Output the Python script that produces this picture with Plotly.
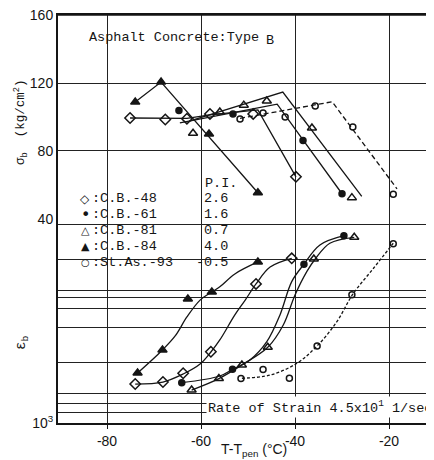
import plotly.graph_objects as go
from plotly.subplots import make_subplots

# ---------------- data ----------------
series_names = ["C.B.-48", "C.B.-61", "C.B.-81", "C.B.-84", "St.As.-93"]
pen_index = ["2.6", "1.6", "0.7", "4.0", "-0.5"]

# upper panel: breaking stress sigma_b (kg/cm2)
cb48_top_x = [-75.1, -67.6, -63.0, -58.1, -48.9, -39.8]
cb48_top_y = [99.4, 98.5, 99.0, 101.8, 101.8, 64.7]
cb48_top_fit_x = [-75.1, -63.0, -58.1, -47.9, -39.8]
cb48_top_fit_y = [99.4, 99.2, 101.3, 104.2, 64.7]

cb61_top_x = [-64.7, -53.2, -38.3, -30.0]
cb61_top_y = [103.8, 101.8, 86.2, 54.7]
cb61_top_fit_x = [-64.5, -43.8, -30.0]
cb61_top_fit_y = [96.5, 107.6, 54.7]

cb81_top_x = [-61.7, -56.0, -50.9, -46.0, -36.4, -27.9]
cb81_top_y = [90.4, 103.0, 107.0, 109.4, 93.5, 52.4]
cb81_top_fit_x = [-62.5, -42.6, -25.8]
cb81_top_fit_y = [97.5, 114.7, 53.1]

cb84_top_x = [-74.0, -68.5, -58.3, -47.9]
cb84_top_y = [108.8, 120.6, 90.0, 55.3]
cb84_top_fit_x = [-74.0, -68.5, -47.9]
cb84_top_fit_y = [108.8, 120.6, 55.3]

stas_top_x = [-51.7, -46.8, -42.1, -35.7, -27.7, -19.1]
stas_top_y = [98.8, 102.4, 100.0, 106.5, 94.1, 54.4]
stas_top_fit_x = [-51.7, -32.1, -18.3]
stas_top_fit_y = [99.2, 109.0, 57.6]

# lower panel: breaking strain epsilon_b (log scale)
cb48_low_x = [-74.0, -68.1, -63.8, -57.9, -48.3, -40.7]
cb48_low_y = [2390, 2500, 3040, 4920, 22400, 39700]
cb48_low_fit_x = [-74.0, -68.1, -63.8, -60.2, -57.9, -56.0, -52.8, -50.6, -48.3, -45.3, -40.7]
cb48_low_fit_y = [2390, 2500, 2990, 3740, 4890, 6400, 11200, 15600, 22400, 32700, 39700]

cb61_low_x = [-64.1, -53.3, -38.1, -29.6]
cb61_low_y = [2460, 3320, 34800, 65800]
cb61_low_fit_x = [-64.1, -56.0, -53.3, -49.6, -46.0, -43.2, -40.7, -38.1, -34.7, -29.6]
cb61_low_fit_y = [2460, 2860, 3320, 4090, 6160, 11200, 23600, 34800, 53500, 65800]

cb81_low_x = [-62.0, -56.2, -51.3, -45.8, -36.0, -27.4]
cb81_low_y = [2090, 2700, 3660, 5430, 39100, 63500]
cb81_low_fit_x = [-62.0, -56.2, -51.3, -45.8, -42.5, -40.0, -37.5, -35.7, -32.6, -27.4]
cb81_low_fit_y = [2090, 2700, 3660, 5430, 8940, 17500, 29500, 39100, 55600, 63500]

cb84_low_x = [-73.5, -68.2, -62.8, -57.7, -47.9]
cb84_low_y = [3060, 5120, 16000, 18700, 36600]
cb84_low_fit_x = [-73.5, -68.2, -65.5, -63.0, -60.2, -57.7, -56.0, -52.8, -47.9]
cb84_low_fit_y = [3060, 5120, 7000, 10700, 15600, 18700, 21000, 28000, 36600]

stas_low_x = [-51.5, -46.8, -41.2, -35.3, -27.9, -19.1]
stas_low_y = [2700, 3300, 2720, 5600, 17600, 55100]
stas_low_fit_x = [-51.3, -45.3, -39.6, -35.3, -31.1, -27.7, -23.3, -19.1]
stas_low_fit_y = [2720, 2920, 3800, 5600, 9630, 17800, 31800, 55600]

# axes / ticks
x_ticks = [-80, -60, -40, -20]
x_tick_text = ["-80", "-60", "-40", "-20"]
sigma_ticks = [40, 80, 120, 160]
eps_ticks = [1000]
eps_tick_text = ["10<sup>3</sup>"]
eps_grid = [1251, 1563, 1955, 3910, 8550, 12790, 16720, 19550, 39100, 85500]

# ---------------- figure ----------------
INK = "#151515"
fig = make_subplots(rows=2, cols=1, shared_xaxes=True, vertical_spacing=0)

symbols = ["diamond-open", "circle", "triangle-up-open", "triangle-up", "circle-open"]
msizes = [8, 6, 8, 8, 6]

top = [
    (cb48_top_x, cb48_top_y, cb48_top_fit_x, cb48_top_fit_y),
    (cb61_top_x, cb61_top_y, cb61_top_fit_x, cb61_top_fit_y),
    (cb81_top_x, cb81_top_y, cb81_top_fit_x, cb81_top_fit_y),
    (cb84_top_x, cb84_top_y, cb84_top_fit_x, cb84_top_fit_y),
    (stas_top_x, stas_top_y, stas_top_fit_x, stas_top_fit_y),
]
low = [
    (cb48_low_x, cb48_low_y, cb48_low_fit_x, cb48_low_fit_y),
    (cb61_low_x, cb61_low_y, cb61_low_fit_x, cb61_low_fit_y),
    (cb81_low_x, cb81_low_y, cb81_low_fit_x, cb81_low_fit_y),
    (cb84_low_x, cb84_low_y, cb84_low_fit_x, cb84_low_fit_y),
    (stas_low_x, stas_low_y, stas_low_fit_x, stas_low_fit_y),
]

for i, (mx, my, fx, fy) in enumerate(top):
    dash = "5px,3px" if i == 4 else "solid"
    fig.add_trace(go.Scatter(x=fx, y=fy, mode="lines",
                             line=dict(color=INK, width=1.3, dash=dash),
                             hoverinfo="skip"), row=1, col=1)
    fig.add_trace(go.Scatter(x=mx, y=my, mode="markers", name=series_names[i],
                             marker=dict(symbol=symbols[i], size=msizes[i], color=INK,
                                         line=dict(color=INK, width=1.5))),
                  row=1, col=1)

for i, (mx, my, fx, fy) in enumerate(low):
    dash = "3px,2px" if i == 4 else "solid"
    fig.add_trace(go.Scatter(x=fx, y=fy, mode="lines", line_shape="spline",
                             line=dict(color=INK, width=1.3, dash=dash),
                             hoverinfo="skip"), row=2, col=1)
    fig.add_trace(go.Scatter(x=mx, y=my, mode="markers", name=series_names[i],
                             marker=dict(symbol=symbols[i], size=msizes[i], color=INK,
                                         line=dict(color=INK, width=1.5))),
                  row=2, col=1)

X_RANGE = [-90.43, -10.43]
GRID_C = "#222222"
grid = dict(showgrid=True, gridcolor=GRID_C, gridwidth=1.2, zeroline=False)

# The page body adds an 8 px offset, so the figure is 8 px smaller and margins shifted.
fig.update_layout(
    width=426, height=452,
    margin=dict(l=50, r=0, t=7, b=37),
    plot_bgcolor="white", paper_bgcolor="white",
    showlegend=False,
    font=dict(family="Liberation Sans", size=14, color=INK),
    xaxis=dict(range=X_RANGE, tickvals=x_ticks, showticklabels=False, ticks="",
               side="top", showline=True, linecolor=INK, linewidth=1.5, **grid),
    xaxis2=dict(range=X_RANGE, tickvals=x_ticks, ticktext=x_tick_text,
                ticks="outside", ticklen=4, tickcolor=INK, ticklabeloverflow="allow",
                showline=True, linecolor=INK, linewidth=1.5, **grid),
    yaxis=dict(domain=[0.5, 1], range=[39.8, 160.2], tickvals=sigma_ticks, ticks="",
               ticklabeloverflow="allow",
               showline=True, linecolor=INK, linewidth=2, **grid),
    yaxis2=dict(domain=[0, 0.5], type="log", range=[3, 4.9806], tickvals=eps_ticks,
                ticktext=eps_tick_text, ticks="", showline=True, linecolor=INK,
                linewidth=2, ticklabeloverflow="allow",
                minor=dict(tickvals=eps_grid, showgrid=True, gridcolor=GRID_C,
                           gridwidth=1.2, ticks=""),
                **grid),
)

# screen pixel -> paper helpers (layout only); plot area spans screen x 58..434, y 15..423
def PX(px):
    return (px - 58) / 376.0

def PY(py):
    return (423 - py) / 408.0

# top frame line
fig.add_shape(type="line", xref="paper", yref="paper", x0=0, x1=1, y0=1, y1=1,
              line=dict(color=INK, width=1.6), layer="above")

# white legend area
fig.add_shape(type="rect", xref="paper", yref="paper",
              x0=PX(90), x1=PX(232), y0=PY(268), y1=PY(175),
              fillcolor="white", line=dict(width=0), layer="between")

MONO = "Liberation Mono"

def note(text, px, py, xanchor="left", size=13.5, family=MONO, **kw):
    fig.add_annotation(text=text, x=PX(px), y=PY(py), xref="paper", yref="paper",
                       xanchor=xanchor, yanchor="middle", showarrow=False,
                       font=dict(family=family, size=size, color=INK), **kw)

note("Asphalt Concrete:Type", 87, 37)
note("B", 264, 40)

# legend rows
note("P.I.", 203, 183)
leg_syms = ["◇", "•", "△", "▲", "○"]
leg_sym_sizes = [12, 16, 11, 11, 10]
row_y = [199, 214, 230, 246, 262]
for i in range(5):
    note(leg_syms[i], 85, row_y[i], xanchor="center", size=leg_sym_sizes[i],
         family="DejaVu Sans")
    note(":" + series_names[i], 90, row_y[i])
    note(pen_index[i], 230, row_y[i], xanchor="right")

note("Rate of Strain 4.5x10<sup>1</sup> 1/sec", 206, 407, bgcolor="white", borderpad=1)

# axis titles
note("σ<sub>b</sub>  (kg/cm<sup>2</sup>)", 21, 122, xanchor="center", size=12.5,
     textangle=-90)
note("ε<sub>b</sub>", 22, 343, xanchor="center", size=14, textangle=-90)
note("T-T<sub>pen</sub> (°C)", 254, 450, xanchor="center", size=14,
     family="Liberation Sans")

fig.write_html("out.html")
